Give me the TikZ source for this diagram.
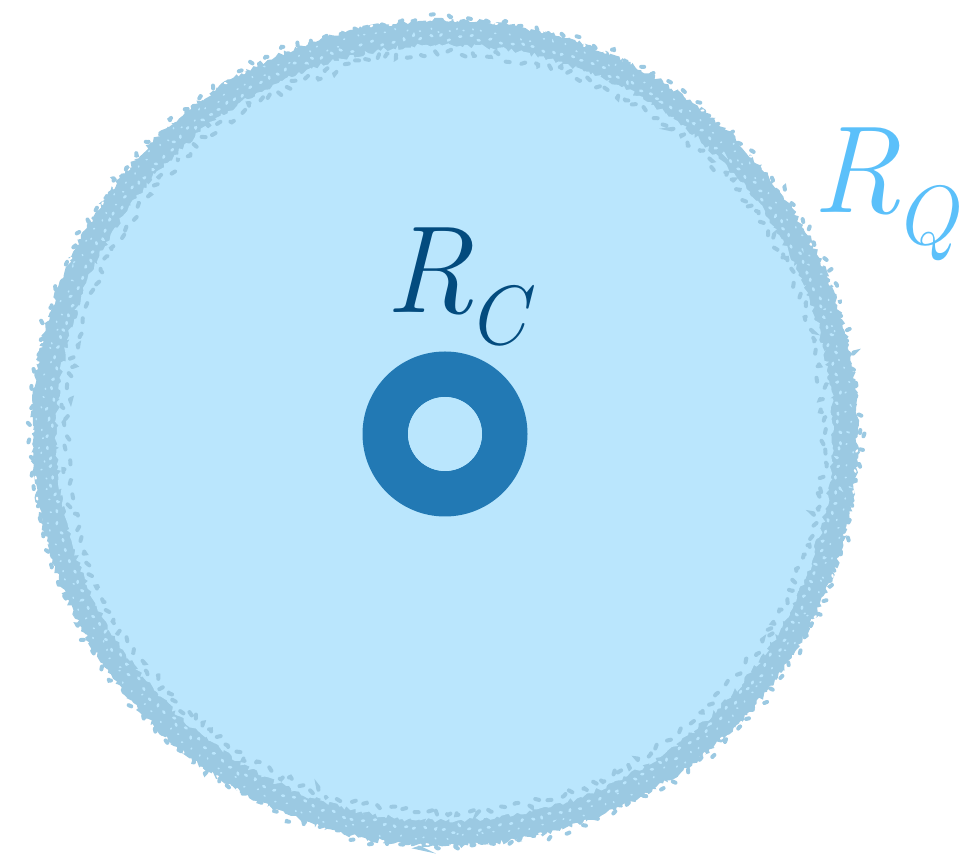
\documentclass[tikz,border=0pt]{standalone}
\usetikzlibrary{decorations.pathmorphing}
\definecolor{qfill}{HTML}{BAE6FD}
\definecolor{qedge}{HTML}{9BC9E2}
\definecolor{ringc}{HTML}{2279B4}
\definecolor{rclab}{HTML}{034B7E}
\definecolor{rqlab}{HTML}{5BC0FA}
\newcommand{\bigsub}[2]{{\fontsize{124}{124}\selectfont\itshape #1\kern-6pt\raisebox{-32pt}{\fontsize{84}{84}\selectfont\itshape #2}}}
\tikzset{
  roughA/.style={decorate, decoration={random steps, segment length=3pt, amplitude=2.5pt}, line join=round},
  roughB/.style={decorate, decoration={random steps, segment length=9pt, amplitude=6pt}, line join=round},
  biglab/.style={inner sep=0pt, anchor=base west}
}
\begin{document}
\begin{tikzpicture}[x=1pt,y=1pt]
\pgfmathsetseed{11}
\useasboundingbox (0,0) rectangle (969,856);
% quantum region
\coordinate (qc) at (445,423);
\fill[qedge, roughA] (qc) circle[radius=413];
\fill[qedge, roughB] (qc) circle[radius=409];
\fill[qfill, roughA] (qc) circle[radius=388];
\fill[qfill, roughB] (qc) circle[radius=382];
% texture in the band
\draw[qfill, line width=2.5pt, line cap=round, dash pattern=on 2pt off 10pt, decorate, decoration={random steps, segment length=5pt, amplitude=4pt}] (qc) circle[radius=396];
\draw[qfill, line width=1.5pt, line cap=round, dash pattern=on 1pt off 15pt, decorate, decoration={random steps, segment length=4pt, amplitude=5pt}] (qc) circle[radius=404];
\draw[white, line width=2pt, line cap=round, dash pattern=on 2pt off 23pt, decorate, decoration={random steps, segment length=5pt, amplitude=3pt}] (qc) circle[radius=414];
\draw[qedge, line width=4pt, line cap=round, dash pattern=on 4pt off 12pt, decorate, decoration={random steps, segment length=5pt, amplitude=5pt}] (qc) circle[radius=380];
\draw[qedge, line width=4pt, line cap=round, dash pattern=on 3pt off 17pt, decorate, decoration={random steps, segment length=6pt, amplitude=5pt}] (qc) circle[radius=415];
% classical ring
\coordinate (rc) at (445,422);
\fill[ringc, even odd rule] (rc) circle[radius=82.5] (rc) circle[radius=37];
\fill[qfill] (rc) circle[radius=37];
% labels
\node[biglab, text=rclab] (lc) at (385,543) {\bigsub{R}{C}};
\node[biglab, text=rqlab] (lq) at (812,643) {\bigsub{R}{Q}};
\end{tikzpicture}
\end{document}
